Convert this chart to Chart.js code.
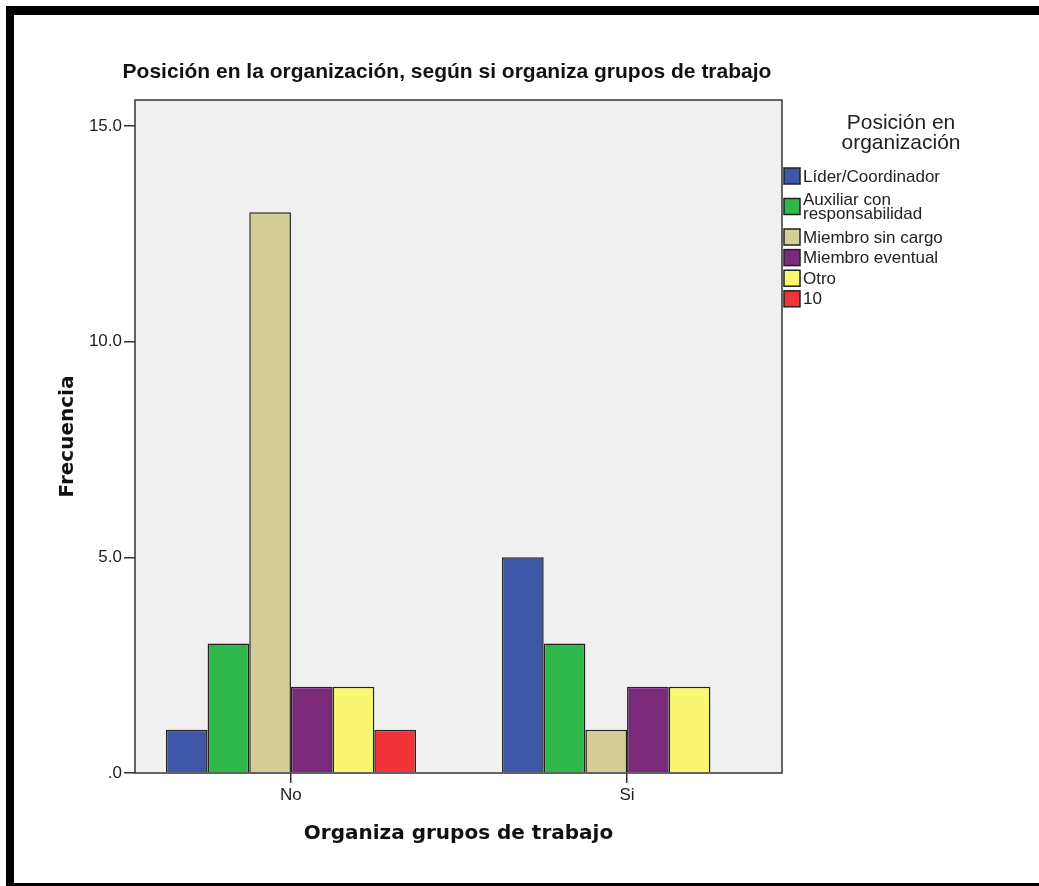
<!DOCTYPE html>
<html>
<head>
<meta charset="utf-8">
<script src="https://cdn.jsdelivr.net/npm/chart.js@4"></script>
<style>
  html, body { margin: 0; padding: 0; background: #fff; overflow: hidden; }
  #frame {
    position: absolute; left: 6px; top: 6px; width: 1100px; height: 868px;
    border-top: 9px solid #000; border-left: 8px solid #000; border-bottom: 3px solid #000;
    pointer-events: none;
  }
  #myChart { position: absolute; left: 0; top: 0; }
</style>
</head>
<body>
<div id="frame"></div>
<canvas id="myChart" width="1039" height="886"></canvas>
<script>
// data
const categories = ["No", "Si"];
const seriesNames = ["Líder/Coordinador", "Auxiliar con\nresponsabilidad", "Miembro sin cargo", "Miembro eventual", "Otro", "10"];
const lider = [1, 5];
const auxiliar = [3, 3];
const miembroSinCargo = [13, 1];
const miembroEventual = [2, 2];
const otro = [2, 2];
const diez = [1, null];
const seriesColors = ["#3e57a8", "#2fb84a", "#d3cf96", "#7b297b", "#faf66f", "#f03239"];
const yTickValues = [0, 5, 10, 15];
const yTickLabels = [".0", "5.0", "10.0", "15.0"];

const ARIAL = "'Liberation Sans', Arial, sans-serif";
const BOLDFONT = "'DejaVu Sans', Verdana, sans-serif";

// gray plot background + box around it
const plotBox = {
    id: "plotBox",
    afterLayout(chart) {
        // centre the title over the axis + plot block, like SPSS does
        chart.titleBlock.left = chart.chartArea.left - 23;
        chart.titleBlock.right = chart.chartArea.right;
    },
    beforeDatasetsDraw(chart) {
        const a = chart.chartArea, ctx = chart.ctx;
        ctx.save();
        ctx.fillStyle = "#f0f0f0";
        ctx.fillRect(a.left, a.top, a.right - a.left, a.bottom - a.top);
        ctx.restore();
    },
    afterDatasetsDraw(chart) {
        const a = chart.chartArea, ctx = chart.ctx;
        ctx.save();
        ctx.strokeStyle = "#333";
        ctx.lineWidth = 1.5;
        ctx.strokeRect(a.left, a.top, a.right - a.left, a.bottom - a.top);
        ctx.restore();
    }
};

// legend on the right
const sideLegend = {
    id: "sideLegend",
    afterDraw(chart) {
        const ctx = chart.ctx;
        const x0 = chart.chartArea.right + 2;
        ctx.save();
        ctx.fillStyle = "#222";
        ctx.font = "21px " + ARIAL;
        ctx.textAlign = "center";
        ctx.textBaseline = "middle";
        ctx.fillText("Posición en", 901, 123);
        ctx.fillText("organización", 901, 143);

        ctx.font = "17px " + ARIAL;
        ctx.textAlign = "left";
        let top = 166.7;
        chart.data.datasets.forEach(function (ds) {
            const lines = ds.label.split("\n");
            const h = 20.6 + (lines.length - 1) * 19.8;
            const mid = top + h / 2;
            ctx.fillStyle = ds.backgroundColor;
            ctx.fillRect(x0, mid - 9, 16, 16);
            ctx.strokeStyle = "#222";
            ctx.lineWidth = 1.5;
            ctx.strokeRect(x0, mid - 9, 16, 16);
            ctx.fillStyle = "#222";
            lines.forEach(function (t, i) {
                ctx.fillText(t, x0 + 19, mid + (i - (lines.length - 1) / 2) * 14);
            });
            top += h;
        });
        ctx.restore();
    }
};

const seriesValues = [lider, auxiliar, miembroSinCargo, miembroEventual, otro, diez];

new Chart("myChart", {
    type: "bar",
    data: {
        datasets: seriesValues.map(function (vals, i) {
            return {
                label: seriesNames[i],
                data: vals.map(function (v, j) { return { x: j, y: v }; }),
                backgroundColor: seriesColors[i],
                borderColor: "#222",
                borderWidth: 1.5,
                categoryPercentage: 0.744,
                barPercentage: 1
            };
        })
    },
    options: {
        responsive: false,
        animation: false,
        layout: { padding: { left: 30, right: 257, top: 0, bottom: 0 } },
        plugins: {
            legend: { display: false },
            tooltip: { enabled: false },
            title: {
                display: true,
                text: "Posición en la organización, según si organiza grupos de trabajo",
                color: "#111",
                font: { family: ARIAL, size: 21, weight: "bold" },
                padding: { top: 60, bottom: 14.8 }
            }
        },
        scales: {
            x: {
                type: "linear",
                offset: false,
                min: -0.464,
                max: 1.461,
                afterFit: function (scale) { scale.height = 113; },
                afterBuildTicks: function (scale) {
                    scale.ticks = categories.map(function (c, i) { return { value: i }; });
                },
                grid: { display: true, offset: false, drawOnChartArea: false, drawTicks: true, tickLength: 10, color: "#333", lineWidth: 1.5 },
                border: { display: false },
                ticks: {
                    color: "#222",
                    font: { family: ARIAL, size: 17 },
                    padding: 2,
                    callback: function (v) { return categories[v]; }
                },
                title: {
                    display: true,
                    text: "Organiza grupos de trabajo",
                    color: "#111",
                    font: { family: BOLDFONT, size: 20, weight: "bold" },
                    padding: { top: 4, bottom: 40.5 }
                }
            },
            y: {
                min: 0,
                max: 15.6,
                afterFit: function (scale) { scale.width = 105; },
                afterBuildTicks: function (scale) {
                    scale.ticks = yTickValues.map(function (v) { return { value: v }; });
                },
                grid: { display: true, drawOnChartArea: false, drawTicks: true, tickLength: 11, color: "#333", lineWidth: 1.5 },
                border: { display: false },
                ticks: {
                    color: "#222",
                    font: { family: ARIAL, size: 17 },
                    padding: 2,
                    callback: function (v) { return yTickLabels[yTickValues.indexOf(v)]; }
                },
                title: {
                    display: true,
                    text: "Frecuencia",
                    color: "#111",
                    font: { family: BOLDFONT, size: 20, weight: "bold" },
                    padding: { top: 26, bottom: 0 }
                }
            }
        }
    },
    plugins: [plotBox, sideLegend]
});
</script>
</body>
</html>
